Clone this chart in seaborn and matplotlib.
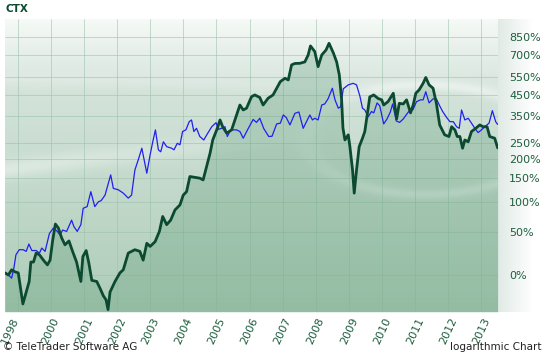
import numpy as np
import pandas as pd
import matplotlib
matplotlib.use("Agg")
import matplotlib.pyplot as plt
import seaborn as sns

sns.set_style("white")
plt.rcParams["font.family"] = ["DejaVu Sans"]

# CTX, change since start in % (x = fractional year)
ctx_year = [1998.62, 1998.72, 1998.82, 1998.92, 1999.02, 1999.16, 1999.28, 1999.35, 1999.40, 1999.48,
            1999.56, 1999.66, 1999.78, 1999.90, 1999.98, 2000.06, 2000.14, 2000.23, 2000.33, 2000.43,
            2000.55, 2000.66, 2000.78, 2000.91, 2000.97, 2001.07, 2001.15, 2001.24, 2001.39, 2001.49,
            2001.59, 2001.67, 2001.73, 2001.79, 2001.94, 2002.09, 2002.19, 2002.34, 2002.44, 2002.54,
            2002.69, 2002.79, 2002.90, 2003.00, 2003.15, 2003.28, 2003.38, 2003.50, 2003.62, 2003.75,
            2003.90, 2004.00, 2004.10, 2004.20, 2004.35, 2004.50, 2004.60, 2004.71, 2004.81, 2004.89,
            2005.01, 2005.11, 2005.19, 2005.31, 2005.46, 2005.56, 2005.71, 2005.81, 2005.91, 2006.06,
            2006.16, 2006.31, 2006.41, 2006.56, 2006.71, 2006.82, 2006.93, 2007.07, 2007.17, 2007.27,
            2007.37, 2007.52, 2007.67, 2007.77, 2007.84, 2007.97, 2008.07, 2008.18, 2008.31, 2008.40,
            2008.53, 2008.63, 2008.71, 2008.78, 2008.82, 2008.88, 2008.98, 2009.03, 2009.11, 2009.16,
            2009.23, 2009.31, 2009.41, 2009.48, 2009.53, 2009.63, 2009.75, 2009.88, 2009.99, 2010.05,
            2010.18, 2010.34, 2010.44, 2010.52, 2010.64, 2010.74, 2010.86, 2010.94, 2011.02, 2011.12,
            2011.24, 2011.32, 2011.42, 2011.54, 2011.64, 2011.74, 2011.89, 2012.02, 2012.10, 2012.20,
            2012.27, 2012.35, 2012.43, 2012.50, 2012.60, 2012.70, 2012.83, 2012.95, 2013.05, 2013.17,
            2013.25, 2013.40, 2013.49]
ctx_pct = [2, 0, 5, 3, 2, -24, -13, -6, 13, 13,
           23, 21, 15, 10, 15, 39, 62, 56, 42, 33,
           38, 25, 13, -6, 19, 26, 12, -5, -6, -12,
           -18, -21, -28, -15, -6, 2, 5, 23, 25, 27,
           25, 15, 35, 31, 37, 51, 74, 61, 68, 85,
           94, 113, 120, 154, 152, 150, 146, 181, 217, 259,
           295, 334, 307, 283, 295, 334, 400, 377, 385, 441,
           450, 437, 400, 433, 450, 486, 524, 544, 534, 631,
           641, 642, 652, 703, 775, 729, 619, 703, 742, 797,
           719, 652, 565, 425, 302, 259, 277, 237, 170, 117,
           170, 237, 265, 289, 334, 440, 450, 432, 425, 400,
           416, 459, 338, 408, 405, 425, 364, 400, 459, 477,
           514, 549, 505, 486, 408, 314, 277, 271, 307, 295,
           271, 271, 232, 259, 253, 289, 301, 314, 307, 307,
           271, 265, 233]

# comparison index (blue line)
idx_year = [1998.62, 1998.72, 1998.82, 1998.89, 1998.95, 1999.05, 1999.17, 1999.26, 1999.34, 1999.43,
            1999.56, 1999.66, 1999.73, 1999.83, 1999.96, 2000.08, 2000.20, 2000.28, 2000.36, 2000.48,
            2000.63, 2000.70, 2000.80, 2000.91, 2000.98, 2001.10, 2001.21, 2001.33, 2001.44, 2001.52,
            2001.64, 2001.74, 2001.81, 2001.89, 2002.04, 2002.19, 2002.34, 2002.44, 2002.54, 2002.64,
            2002.75, 2002.90, 2003.00, 2003.08, 2003.16, 2003.25, 2003.32, 2003.40, 2003.50, 2003.65,
            2003.72, 2003.82, 2003.90, 2003.98, 2004.08, 2004.18, 2004.25, 2004.32, 2004.40, 2004.50,
            2004.62, 2004.71, 2004.86, 2004.99, 2005.06, 2005.16, 2005.26, 2005.33, 2005.43, 2005.61,
            2005.71, 2005.81, 2005.96, 2006.11, 2006.21, 2006.31, 2006.43, 2006.58, 2006.68, 2006.82,
            2006.93, 2007.02, 2007.11, 2007.22, 2007.37, 2007.49, 2007.62, 2007.72, 2007.82, 2007.90,
            2007.97, 2008.07, 2008.18, 2008.27, 2008.37, 2008.50, 2008.58, 2008.68, 2008.75, 2008.83,
            2008.98, 2009.13, 2009.23, 2009.33, 2009.41, 2009.48, 2009.58, 2009.68, 2009.75, 2009.85,
            2009.93, 2010.05, 2010.15, 2010.25, 2010.32, 2010.43, 2010.53, 2010.64, 2010.75, 2010.84,
            2010.93, 2011.04, 2011.16, 2011.24, 2011.32, 2011.42, 2011.54, 2011.64, 2011.74, 2011.83,
            2011.95, 2012.05, 2012.15, 2012.25, 2012.33, 2012.40, 2012.50, 2012.60, 2012.70, 2012.80,
            2012.90, 2013.00, 2013.10, 2013.23, 2013.33, 2013.43, 2013.49]
idx_pct = [2, 0, -3, 7, 21, 27, 27, 25, 34, 26,
           26, 23, 29, 25, 48, 56, 51, 46, 53, 51,
           68, 58, 51, 61, 88, 91, 120, 91, 100, 102,
           113, 138, 158, 127, 124, 117, 107, 113, 170, 197,
           232, 162, 212, 253, 295, 227, 221, 253, 237, 232,
           227, 248, 243, 289, 295, 327, 334, 289, 301, 271,
           259, 277, 307, 323, 297, 301, 307, 271, 295, 295,
           289, 265, 300, 336, 324, 341, 300, 271, 272, 318,
           321, 355, 344, 314, 362, 368, 301, 327, 355, 334,
           341, 334, 400, 405, 430, 486, 425, 385, 392, 483,
           505, 514, 505, 445, 385, 377, 347, 370, 364, 410,
           396, 318, 338, 368, 405, 330, 324, 338, 359, 377,
           377, 416, 425, 425, 467, 410, 430, 430, 396, 370,
           344, 327, 327, 307, 301, 377, 334, 341, 321, 301,
           285, 295, 307, 321, 374, 327, 316]

year_ticks = [1998.76] + list(range(2000, 2014))
year_labels = ["1998"] + [str(y) for y in range(2000, 2014)]
grid_years = list(range(1999, 2014))
pct_ticks = [0, 50, 100, 150, 200, 250, 350, 450, 550, 700, 850]
pct_labels = [f"{p}%" for p in pct_ticks]

ctx = pd.DataFrame({"year": ctx_year, "pct": ctx_pct})
idx = pd.DataFrame({"year": idx_year, "pct": idx_pct})

W, H = 544, 353
fig = plt.figure(figsize=(W / 100, H / 100), dpi=100)
L, R, T, B = 5, 498, 19, 312
ax_rect = [L / W, 1 - B / H, (R - L) / W, (B - T) / H]

# background: vertical green gradient with a few light swooshes
bg = fig.add_axes([L / W, 1 - B / H, (540 - L) / W, (B - T) / H], zorder=0)
yy, xx = np.mgrid[0:B - T, 0:540 - L].astype(float)
t = yy / (B - T)
top = np.array([0.965, 0.978, 0.968])
mid = np.array([0.83, 0.89, 0.855])
bot = np.array([0.68, 0.80, 0.72])
k = np.clip(t / 0.25, 0, 1)[..., None]
k2 = np.clip((t - 0.25) / 0.75, 0, 1)[..., None]
img = np.where((t < 0.25)[..., None], top + (mid - top) * k, mid + (bot - mid) * k2)
# light streaks
band1 = np.exp(-((yy - (150 - 0.12 * xx)) / 10) ** 2) * np.clip(1 - xx / 320, 0, 1)
r = np.sqrt(((xx - 420) / 120) ** 2 + ((yy - 120) / 55) ** 2)
band2 = np.exp(-((r - 1) / 0.09) ** 2) * np.clip((xx - 260) / 120, 0, 1)
band3 = np.exp(-((yy - (60 + 0.02 * xx)) / 6) ** 2) * 0.5
light = np.clip(0.4 * band1 + 0.35 * band2 + 0.2 * band3, 0, 0.6)[..., None]
img = img + (1 - img) * light
# fade to white right of the plot
right = xx >= (R - L)
fade = np.clip((xx - (R - L)) / 35, 0, 1)[..., None]
side = np.array([0.88, 0.92, 0.9]) + (1 - np.array([0.88, 0.92, 0.9])) * fade
img = np.where(right[..., None], side, img)
bg.imshow(img, aspect="auto", extent=[0, 1, 0, 1], origin="upper")
bg.axis("off")

ax = fig.add_axes(ax_rect, zorder=1)
ax.patch.set_alpha(0)


def fwd(v):
    with np.errstate(invalid="ignore", divide="ignore"):
        return np.log1p(np.asarray(v, dtype=float) / 100)


def inv(v):
    return 100 * np.expm1(v)


ax.set_yscale("function", functions=(fwd, inv))
ylo, yhi = -29.6, 1029

ax.fill_between(ctx["year"], ctx["pct"], ylo, color="#4a9068", alpha=0.25, lw=0, zorder=2)
sns.lineplot(data=idx, x="year", y="pct", sort=False, estimator=None, color="#2020f0",
             lw=0.9, ax=ax, zorder=3)
sns.lineplot(data=ctx, x="year", y="pct", sort=False, estimator=None, color="#0b4a30",
             lw=2.0, ax=ax, zorder=4)

ax.set_xlim(1998.62, 2013.50)
ax.set_ylim(ylo, yhi)
ax.set_xlabel("")
ax.set_ylabel("")

ax.xaxis.remove_overlapping_locs = False
ax.set_xticks(year_ticks)
ax.set_xticklabels(year_labels, rotation=65, ha="center", va="top", color="#1d5e3e", fontsize=8)
ax.set_xticks(grid_years, minor=True)
ax.set_yticks(pct_ticks)
ax.set_yticklabels(pct_labels, color="#1d5e3e", fontsize=8)
ax.yaxis.set_minor_locator(matplotlib.ticker.NullLocator())
ax.yaxis.tick_right()
ax.tick_params(axis="y", length=0, pad=8)
ax.tick_params(axis="x", which="both", length=0, pad=3)
ax.grid(False)
ax.grid(True, axis="x", which="minor", color="#9cc2ac", lw=0.5, alpha=0.8, zorder=1)
ax.grid(True, axis="y", which="major", color="#9cc2ac", lw=0.5, alpha=0.8, zorder=1)
ax.set_axisbelow(True)
for s in ax.spines.values():
    s.set_visible(False)

fig.text(5 / W, 1 - 9 / H, "CTX", fontsize=7.5, fontweight="bold", color="#0b4a30",
         ha="left", va="center")
fig.text(3 / W, 1 - 347 / H, "\u00a9 TeleTrader Software AG", fontsize=7.5, color="#222222",
         ha="left", va="center")
fig.text(541 / W, 1 - 347 / H, "logarithmic Chart", fontsize=7.5, color="#222222",
         ha="right", va="center")

fig.savefig("out.png", dpi=100)
